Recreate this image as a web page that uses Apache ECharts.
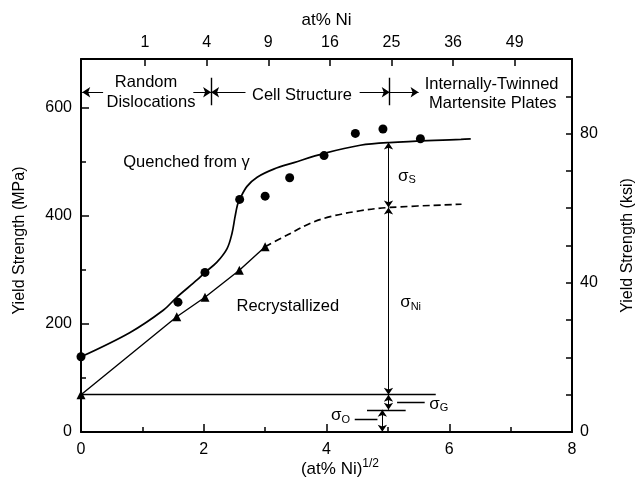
<!DOCTYPE html>
<html><head><meta charset="utf-8">
<script src="https://cdn.jsdelivr.net/npm/echarts@6/dist/echarts.min.js"></script>
<style>html,body{margin:0;padding:0;background:#fff}#c{width:637px;height:481px}</style>
</head><body><div id="c"></div>
<script>
const FONT = "'Liberation Sans', Arial, Helvetica, sans-serif";

// axes
const bottomTicks = [0, 2, 4, 6, 8];
const topTickRoots = [1, 2, 3, 4, 5, 6, 7];          // labelled as at% Ni = n^2
const leftTicks = [0, 200, 400, 600];                 // MPa
const leftMinorTicks = [100, 300, 500];
const rightLabels = [0, 40, 80];                      // ksi
const rightTicks = [0, 10, 20, 30, 40, 50, 60, 70, 80, 90, 100];

// data: x = (at% Ni)^1/2, y = yield strength (MPa)
const quenchedPoints = [[0, 139], [1.58, 240], [2.02, 295], [2.585, 430], [3.0, 436], [3.40, 470], [3.96, 511], [4.47, 552], [4.92, 560], [5.53, 542]];
const quenchedCurve = [[0, 139], [0.8, 184], [1.34, 225], [1.56, 249], [1.89, 281], [2.02, 295], [2.215, 314], [2.38, 339], [2.46, 367], [2.51, 398], [2.55, 420], [2.585, 430], [2.705, 454], [2.87, 471], [3.14, 486], [3.47, 498], [3.96, 515], [4.55, 530], [5.02, 535], [6.19, 541], [6.35, 542]];
const recrystPoints = [[0, 69], [1.56, 213], [2.02, 249], [2.58, 299], [3.0, 342.6]];
const recrystDashed = [[3.0, 342.6], [3.36, 364], [3.74, 386], [4.06, 398], [4.55, 409], [5.02, 415], [6.2, 421]];

// annotation geometry (data units)
const singleArrows = [
  [[0.36, 628], [0.02, 628]],
  [[1.83, 628], [2.12, 628]],
  [[2.68, 628], [2.12, 628]],
  [[4.54, 628], [5.03, 628]],
  [[5.03, 628], [5.50, 628]]
];
const doubleArrows = [
  [[5.01, 415], [5.01, 535]],
  [[5.01, 69], [5.01, 415]],
  [[5.01, 41], [5.01, 69]],
  [[4.91, 0.5], [4.91, 41]]
];
const plainLines = [
  [[2.12, 604], [2.12, 655]],
  [[5.03, 604], [5.03, 655]],
  [[0, 69], [5.78, 69]],
  [[4.66, 41], [5.29, 41]],
  [[5.15, 54.4], [5.60, 54.4]],
  [[4.46, 23.5], [4.83, 23.5]]
];
const textLabels = [
  [1.06, 645.7, 'Random'],
  [1.14, 608.7, 'Dislocations'],
  [3.60, 622, 'Cell Structure'],
  [6.69, 642, 'Internally-Twinned'],
  [6.71, 606.8, 'Martensite Plates'],
  [1.72, 498.7, 'Quenched from γ'],
  [3.37, 231.5, 'Recrystallized'],
  [5.31, 471.7, '{g|σ}{sub|S}'],
  [5.37, 238, '{g|σ}{sub|Ni}'],
  [5.83, 51, '{g|σ}{sub|G}'],
  [4.23, 29, '{g|σ}{sub|O}']
];

const black = '#000';
const axisLine = { show: true, onZero: false, lineStyle: { color: black, width: 2 } };
const lbl = { color: black, fontSize: 16, fontFamily: FONT };

const chart = echarts.init(document.getElementById('c'), null, { renderer: 'canvas' });
chart.setOption({
  animation: false,
  backgroundColor: '#fff',
  grid: { left: 81, right: 65, top: 59, bottom: 49, containLabel: false, outerBoundsMode: 'none' },
  xAxis: [
    {
      type: 'value', position: 'bottom', min: 0, max: 8, interval: 2,
      axisLine, splitLine: { show: false },
      axisTick: { inside: true, length: 8, lineStyle: { color: black, width: 1.5 } },
      minorTick: { show: true, splitNumber: 2, length: 5, lineStyle: { color: black, width: 1.5 } },
      minorSplitLine: { show: false },
      axisLabel: Object.assign({ margin: 10, customValues: bottomTicks }, lbl),
      name: '{a|(at% Ni)}{b|1/2}', nameLocation: 'middle', nameGap: 26, nameMoveOverlap: false,
      nameTextStyle: {
        padding: [0, 0, 0, 27],
        rich: {
          a: { fontSize: 17, fontFamily: FONT, color: black, lineHeight: 20, verticalAlign: 'bottom', padding: [12, 0, 0, 0] },
          b: { fontSize: 12, fontFamily: FONT, color: black, lineHeight: 14, verticalAlign: 'top' }
        }
      }
    },
    {
      type: 'value', position: 'top', min: -0.04, max: 7.93,
      axisLine, splitLine: { show: false },
      axisTick: { inside: true, length: 7, customValues: topTickRoots, lineStyle: { color: black, width: 1.5 } },
      axisLabel: Object.assign({ margin: 8, customValues: topTickRoots, formatter: v => String(Math.round(v * v)) }, lbl),
      name: 'at% Ni', nameLocation: 'middle', nameGap: 29, nameMoveOverlap: false,
      nameTextStyle: { color: black, fontSize: 17, fontFamily: FONT, lineHeight: 20 }
    }
  ],
  yAxis: [
    {
      type: 'value', position: 'left', min: 0, max: 689.5,
      axisLine, splitLine: { show: false },
      axisTick: { inside: true, length: 8, customValues: leftTicks, lineStyle: { color: black, width: 1.5 } },
      axisLabel: Object.assign({ margin: 9, customValues: leftTicks }, lbl),
      name: 'Yield Strength (MPa)', nameLocation: 'middle', nameGap: 52, nameRotate: 90, nameMoveOverlap: false,
      nameTextStyle: { color: black, fontSize: 16, fontFamily: FONT, lineHeight: 18, padding: [0, 0, 0, 10] }
    },
    {
      type: 'value', position: 'right', min: 0, max: 100,
      axisLine, splitLine: { show: false },
      axisTick: { inside: true, length: 6, customValues: rightTicks, lineStyle: { color: black, width: 1.5 } },
      axisLabel: Object.assign({ margin: 8, customValues: rightLabels }, lbl),
      name: 'Yield Strength (ksi)', nameLocation: 'middle', nameGap: 47, nameRotate: 90, nameMoveOverlap: false,
      nameTextStyle: { color: black, fontSize: 16, fontFamily: FONT, lineHeight: 18 }
    },
    {
      type: 'value', position: 'left', min: 0, max: 689.5,
      axisLine: { show: false, onZero: false }, splitLine: { show: false },
      axisTick: { inside: true, length: 5, customValues: leftMinorTicks, lineStyle: { color: black, width: 1.5 } },
      axisLabel: { show: false }
    }
  ],
  series: [
    {
      type: 'line', xAxisIndex: 0, yAxisIndex: 0, data: quenchedCurve, smooth: 0.35,
      showSymbol: false, symbol: 'none', lineStyle: { color: black, width: 1.7 }, z: 3
    },
    {
      type: 'scatter', xAxisIndex: 0, yAxisIndex: 0, data: quenchedPoints,
      symbol: 'circle', symbolSize: 9, itemStyle: { color: black, opacity: 1 }, z: 5
    },
    {
      type: 'line', xAxisIndex: 0, yAxisIndex: 0, data: recrystPoints,
      symbol: 'triangle', symbolSize: 9, showSymbol: true,
      itemStyle: { color: black, opacity: 1 }, lineStyle: { color: black, width: 1.4 }, z: 4
    },
    {
      type: 'line', xAxisIndex: 0, yAxisIndex: 0, data: recrystDashed, smooth: 0.35,
      showSymbol: false, symbol: 'none',
      lineStyle: { color: black, width: 1.7, type: [7, 4] }, z: 3
    },
    {
      type: 'lines', coordinateSystem: 'cartesian2d', xAxisIndex: 0, yAxisIndex: 0,
      symbol: ['none', 'arrow'], symbolSize: 8,
      lineStyle: { color: black, width: 1.2, opacity: 1, curveness: 0 },
      data: singleArrows.map(c => ({ coords: c })), z: 4
    },
    {
      type: 'lines', coordinateSystem: 'cartesian2d', xAxisIndex: 0, yAxisIndex: 0,
      symbol: ['arrow', 'arrow'], symbolSize: 7,
      lineStyle: { color: black, width: 1, opacity: 1, curveness: 0 },
      data: doubleArrows.map(c => ({ coords: c })), z: 4
    },
    {
      type: 'lines', coordinateSystem: 'cartesian2d', xAxisIndex: 0, yAxisIndex: 0,
      symbol: 'none',
      lineStyle: { color: black, width: 1.4, opacity: 1, curveness: 0 },
      data: plainLines.map(c => ({ coords: c })), z: 4
    },
    {
      type: 'scatter', xAxisIndex: 0, yAxisIndex: 0, symbolSize: 1,
      itemStyle: { color: 'rgba(0,0,0,0)', opacity: 1 }, z: 6, silent: true,
      label: {
        show: true, position: 'inside', color: black, fontSize: 16.5, fontFamily: FONT,
        textBorderWidth: 0,
        rich: {
          g: { fontSize: 17, fontFamily: FONT, color: black, lineHeight: 18, verticalAlign: 'top' },
          sub: { fontSize: 11, fontFamily: FONT, color: black, lineHeight: 12, verticalAlign: 'bottom', padding: [8, 0, 0, 0] }
        }
      },
      data: textLabels.map(t => ({ value: [t[0], t[1]], label: { formatter: t[2] } }))
    }
  ]
});
</script></body></html>
